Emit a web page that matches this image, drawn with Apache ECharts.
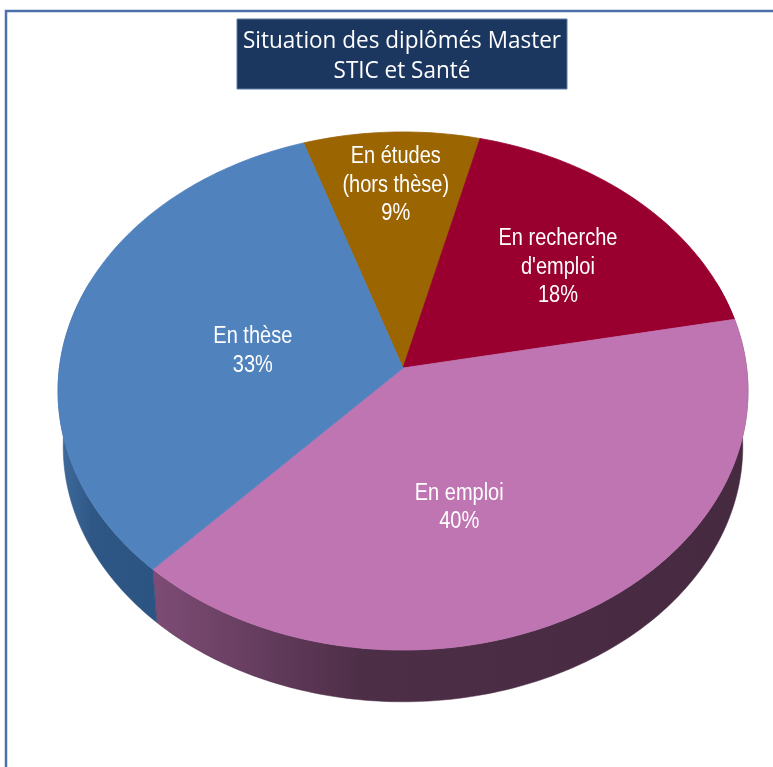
<!DOCTYPE html>
<html>
<head>
<meta charset="utf-8">
<script src="https://cdn.jsdelivr.net/npm/echarts@6/dist/echarts.min.js"></script>
<style>
html, body { margin: 0; padding: 0; background: #fff; }
#chart { width: 773px; height: 767px; }
</style>
</head>
<body>
<div id="chart"></div>
<script>
// données du graphique
const categories = ['En études\n(hors thèse)', 'En recherche\nd\'emploi', 'En emploi', 'En thèse']
const values = [9, 18, 40, 33]
const titleLines = ['Situation des diplômés Master', 'STIC et Santé']

// couleurs (dessus / côté)
const topColors = ['#9b6502', '#99002f', '#bf75b2', '#5082be']
const sideColors = [
    ['#6e4801', '#5a3a01', '#5a3a01'],
    ['#6d0022', '#56001b', '#56001b'],
    ['#7e4c76', '#4d2e47', '#462a40'],
    ['#3f6d9f', '#2f5785', '#2c5482']
]
// placement des étiquettes (fraction du rayon, décalage en degrés)
const labelRadius = [0.76, 0.62, 0.54, 0.445]
const labelNudge = [0.4, 2.4, 12.3, -3.5]

// géométrie du camembert 3D (perspective)
const CX = 403
const CY = 368
const RA = 343.6
const RB = 257
const K = -0.0888
const DEPTH = 56
const SHRINK = 0.985
const START = -18.3

const total = values.reduce((a, b) => a + b, 0)
const cum = values.map((v, i) => values.slice(0, i).reduce((a, b) => a + b, 0))

function project (theta, r, bottom) {
    const t = theta * Math.PI / 180
    const u = r * Math.sin(t)
    const v = -r * Math.cos(t)
    const d = 1 + K * v
    let x = RA * u / d
    let y = RB * v / d
    if (bottom) {
        x *= SHRINK
        y = y * SHRINK + DEPTH
    }
    return [CX + x, CY + y]
}

function arc (t1, t2, bottom) {
    const n = Math.max(2, Math.ceil(t2 - t1))
    const pts = []
    for (let j = 0; j <= n; j++) {
        pts.push(project(t1 + (t2 - t1) * j / n, 1, bottom))
    }
    return pts
}

const myChart = echarts.init(document.getElementById('chart'), null, { renderer: 'canvas' })

myChart.setOption({
    animation: false,
    backgroundColor: '#fff',
    graphic: [
        {
            type: 'rect',
            shape: { x: 6, y: 11, width: 800, height: 800 },
            style: { fill: 'none', stroke: '#4d72aa', lineWidth: 2.5 },
            z: 0
        },
        {
            type: 'rect',
            shape: { x: 237, y: 19, width: 330, height: 70 },
            style: { fill: '#1b365f', stroke: '#5a7aa3', lineWidth: 1 },
            z: 10
        },
        {
            type: 'text',
            x: 402,
            y: 56,
            scaleY: 1.08,
            style: {
                text: titleLines.join('\n'),
                fill: '#fff',
                fontFamily: 'Open Sans',
                fontSize: 22.5,
                lineHeight: 28,
                align: 'center',
                verticalAlign: 'middle'
            },
            z: 11
        }
    ],
    series: [{
        type: 'custom',
        coordinateSystem: 'none',
        data: values.map(v => [v]),
        renderItem: function (params, api) {
            const i = params.dataIndex
            const t1 = START + 360 * cum[i] / total
            const t2 = t1 + 360 * api.value(0) / total
            const children = []

            // côté visible
            const s1 = Math.max(t1, 70)
            const s2 = Math.min(t2, 290)
            if (s2 > s1) {
                const topArc = arc(s1, s2, false)
                const botArc = arc(s1, s2, true)
                const pts = topArc.concat(botArc.slice().reverse())
                const xs = pts.map(p => p[0])
                const x0 = Math.min.apply(null, xs)
                const x1 = Math.max.apply(null, xs)
                children.push({
                    type: 'polygon',
                    z2: 1,
                    shape: { points: pts },
                    style: {
                        fill: new echarts.graphic.LinearGradient(x0, 0, x1, 0, [
                            { offset: 0, color: sideColors[i][0] },
                            { offset: 0.35, color: sideColors[i][1] },
                            { offset: 1, color: sideColors[i][2] }
                        ], true),
                        stroke: sideColors[i][1],
                        lineWidth: 0.5
                    }
                })
            }

            // dessus
            children.push({
                type: 'polygon',
                z2: 10,
                shape: { points: [[CX, CY]].concat(arc(t1, t2, false)) },
                style: { fill: topColors[i], stroke: topColors[i], lineWidth: 0.8 }
            })

            // étiquette
            const mid = (t1 + t2) / 2 + labelNudge[i]
            const lp = project(mid, labelRadius[i], false)
            children.push({
                type: 'text',
                z2: 20,
                x: lp[0],
                y: lp[1],
                scaleY: 1.24,
                style: {
                    text: categories[i] + '\n' + values[i] + '%',
                    fill: '#fff',
                    fontFamily: 'Liberation Sans',
                    fontSize: 20,
                    lineHeight: 23,
                    align: 'center',
                    verticalAlign: 'middle'
                }
            })

            return { type: 'group', children: children }
        }
    }]
})
</script>
</body>
</html>
